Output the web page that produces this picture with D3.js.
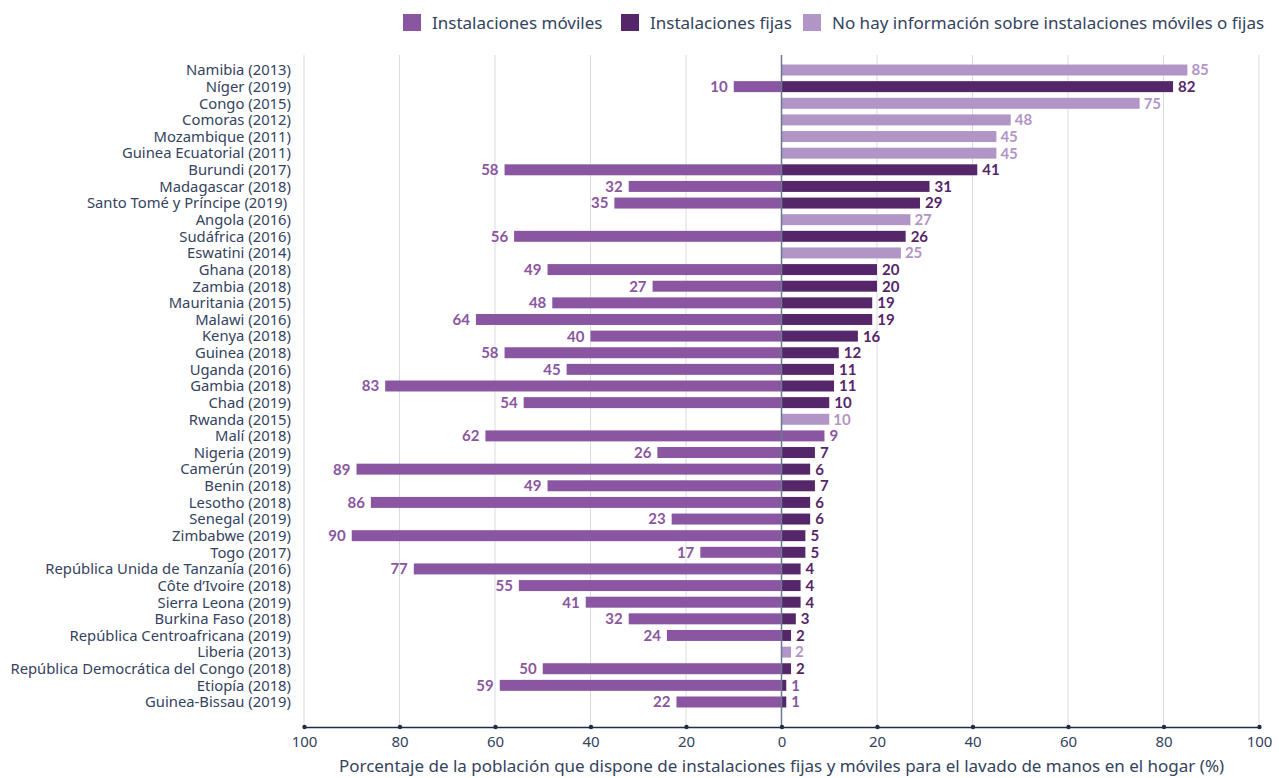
<!DOCTYPE html>
<html>
<head>
<meta charset="utf-8">
<script src="https://cdn.jsdelivr.net/npm/d3@7"></script>
<style>
  body { margin: 0; background: #fff; }
  svg { font-family: "Noto Sans", Lato, sans-serif; }
</style>
</head>
<body>
<svg width="1279" height="778"></svg>
<script>
// countries, top to bottom
var countries = ["Namibia (2013)", "Níger (2019)", "Congo (2015)", "Comoras (2012)", "Mozambique (2011)",
  "Guinea Ecuatorial (2011)", "Burundi (2017)", "Madagascar (2018)", "Santo Tomé y Príncipe (2019)\u00a0",
  "Angola (2016)", "Sudáfrica (2016)", "Eswatini (2014)", "Ghana (2018)", "Zambia (2018)",
  "Mauritania (2015)", "Malawi (2016)", "Kenya (2018)", "Guinea (2018)", "Uganda (2016)",
  "Gambia (2018)", "Chad (2019)", "Rwanda (2015)", "Malí (2018)", "Nigeria (2019)", "Camerún (2019)",
  "Benin (2018)", "Lesotho (2018)", "Senegal (2019)", "Zimbabwe (2019)", "Togo (2017)",
  "República Unida de Tanzanía (2016)", "Côte d’Ivoire (2018)", "Sierra Leona (2019)",
  "Burkina Faso (2018)", "República Centroafricana (2019)", "Liberia (2013)",
  "República Democrática del Congo (2018)", "Etiopía (2018)", "Guinea-Bissau (2019)"];

// mobile facilities (drawn to the left), null = none
var movil = [null, 10, null, null, null, null, 58, 32, 35, null, 56, null, 49, 27, 48, 64, 40, 58, 45,
  83, 54, null, 62, 26, 89, 49, 86, 23, 90, 17, 77, 55, 41, 32, 24, null, 50, 59, 22];

// fixed facilities (drawn to the right)
var fija = [null, 82, null, null, null, null, 41, 31, 29, null, 26, null, 20, 20, 19, 19, 16, 12, 11,
  11, 10, null, 9, 7, 6, 7, 6, 6, 5, 5, 4, 4, 4, 3, 2, null, 2, 1, 1];

// no information on mobile vs fixed
var sinInfo = [85, null, 75, 48, 45, 45, null, null, null, 27, null, 25, null, null, null, null, null,
  null, null, null, null, 10, null, null, null, null, null, null, null, null, null, null, null, null,
  null, 2, null, null, null];

var xTicks = [-100, -80, -60, -40, -20, 0, 20, 40, 60, 80, 100];
var legendItems = ["Instalaciones móviles", "Instalaciones fijas", "No hay información sobre instalaciones móviles o fijas"];

var cMovil = "#8a56a1", cFija = "#56266a", cSin = "#b195c6";
var textCol = "#34435e";

var svg = d3.select("svg");

var x = d3.scaleLinear().domain([-100, 100]).range([304, 1259]);
var y = d3.scaleBand().domain(countries).range([61.7, 710.3]).paddingInner(0.34).paddingOuter(0.17);

// grid
svg.append("g").selectAll("line")
  .data(xTicks.filter(function(d) { return d !== 0; }))
  .enter().append("line")
  .attr("x1", function(d) { return x(d); }).attr("x2", function(d) { return x(d); })
  .attr("y1", 55).attr("y2", 727)
  .attr("stroke", "#d7dbe2").attr("stroke-width", 1);

var rows = countries.map(function(c, i) {
  return { c: c, m: movil[i], f: fija[i], s: sinInfo[i] };
});

// mobile bars (left)
svg.append("g").selectAll("rect")
  .data(rows.filter(function(d) { return d.m != null; }))
  .enter().append("rect")
  .attr("x", function(d) { return x(-d.m); })
  .attr("y", function(d) { return y(d.c); })
  .attr("width", function(d) { return x(0) - x(-d.m); })
  .attr("height", y.bandwidth())
  .attr("fill", cMovil);

// fixed bars (right); Malí shown in the mobile colour as in the source
svg.append("g").selectAll("rect")
  .data(rows.filter(function(d) { return d.f != null; }))
  .enter().append("rect")
  .attr("x", x(0))
  .attr("y", function(d) { return y(d.c); })
  .attr("width", function(d) { return x(d.f) - x(0); })
  .attr("height", y.bandwidth())
  .attr("fill", function(d) { return d.c === "Malí (2018)" ? cMovil : cFija; });

// no-info bars
svg.append("g").selectAll("rect")
  .data(rows.filter(function(d) { return d.s != null; }))
  .enter().append("rect")
  .attr("x", x(0))
  .attr("y", function(d) { return y(d.c); })
  .attr("width", function(d) { return x(d.s) - x(0); })
  .attr("height", y.bandwidth())
  .attr("fill", cSin);

// zero line
svg.append("line")
  .attr("x1", x(0)).attr("x2", x(0)).attr("y1", 55).attr("y2", 727)
  .attr("stroke", "#6a7890").attr("stroke-width", 1.5);

// value labels
var mid = function(d) { return y(d.c) + y.bandwidth() / 2; };
var valLabels = svg.append("g").attr("font-family", "Lato, sans-serif")
  .attr("font-size", 15).attr("font-weight", 700);

valLabels.append("g").selectAll("text")
  .data(rows.filter(function(d) { return d.m != null; }))
  .enter().append("text")
  .attr("x", function(d) { return x(-d.m) - 6; })
  .attr("y", mid).attr("dy", "0.36em")
  .attr("text-anchor", "end")
  .attr("fill", cMovil)
  .text(function(d) { return d.m; });

valLabels.append("g").selectAll("text")
  .data(rows.filter(function(d) { return d.f != null; }))
  .enter().append("text")
  .attr("x", function(d) { return x(d.f) + 5; })
  .attr("y", mid).attr("dy", "0.36em")
  .attr("fill", function(d) { return (d.c === "Malí (2018)" || d.f === 1) ? cMovil : cFija; })
  .text(function(d) { return d.f; });

valLabels.append("g").selectAll("text")
  .data(rows.filter(function(d) { return d.s != null; }))
  .enter().append("text")
  .attr("x", function(d) { return x(d.s) + 4; })
  .attr("y", mid).attr("dy", "0.36em")
  .attr("fill", cSin)
  .text(function(d) { return d.s; });

// country labels
svg.append("g").selectAll("text")
  .data(countries)
  .enter().append("text")
  .attr("x", 291)
  .attr("y", function(d) { return y(d) + y.bandwidth() / 2; })
  .attr("dy", "0.36em")
  .attr("text-anchor", "end")
  .attr("font-size", 14.8)
  .attr("fill", textCol)
  .text(function(d) { return d; });

// x axis
var axis = svg.append("g").attr("transform", "translate(0,727)")
  .call(d3.axisBottom(x).tickValues(xTicks).tickSize(0).tickPadding(9)
    .tickFormat(function(d) { return Math.abs(d); }));
axis.select(".domain").attr("stroke", "#1f2d45").attr("stroke-width", 1.5);
axis.selectAll(".tick text").attr("font-size", 15).attr("fill", textCol)
  .attr("font-family", "Noto Sans, sans-serif");
axis.selectAll(".tick").append("circle").attr("r", 2.2).attr("fill", "#1f2d45");

svg.append("text")
  .attr("x", x(0)).attr("y", 772)
  .attr("text-anchor", "middle")
  .attr("font-size", 17).attr("fill", textCol)
  .text("Porcentaje de la población que dispone de instalaciones fijas y móviles para el lavado de manos en el hogar (%)");

// legend
var legX = [403, 621, 803];
var legC = [cMovil, cFija, cSin];
var leg = svg.append("g").selectAll("g")
  .data(legendItems)
  .enter().append("g")
  .attr("transform", function(d, i) { return "translate(" + legX[i] + ",14)"; });
leg.append("rect").attr("width", 18).attr("height", 17)
  .attr("fill", function(d, i) { return legC[i]; });
leg.append("text").attr("x", 29).attr("y", 8.5).attr("dy", "0.36em")
  .attr("font-size", 17).attr("fill", textCol)
  .text(function(d) { return d; });
</script>
</body>
</html>
